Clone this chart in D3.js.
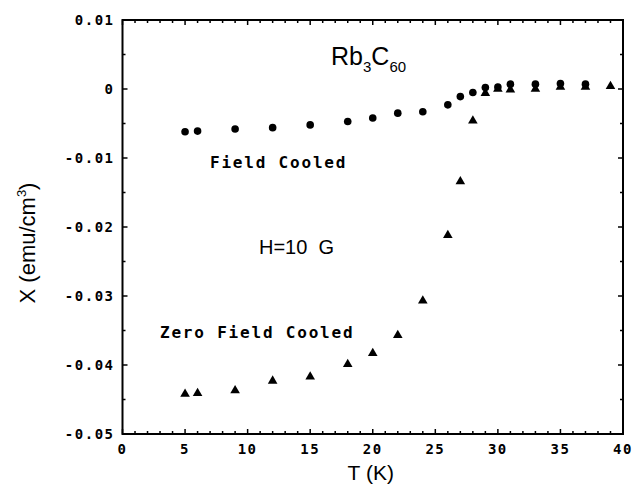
<!DOCTYPE html>
<html><head><meta charset="utf-8">
<script src="https://cdn.jsdelivr.net/npm/d3@7"></script>
<style>
body{margin:0;background:#fff;}
.tick-lbl{font-family:"DejaVu Sans Mono",monospace;font-weight:bold;font-size:14px;letter-spacing:1.5px;fill:#000;}
.mono{font-family:"DejaVu Sans Mono",monospace;font-weight:bold;font-size:16px;letter-spacing:1.8px;fill:#000;}
.sans{font-family:"Liberation Sans",Arial,sans-serif;fill:#000;}
</style></head>
<body>
<svg id="c" width="635" height="484"></svg>
<script>
// Field cooled (circles)
const fcT = [5, 6, 9, 12, 15, 18, 20, 22, 24, 26, 27, 28, 29, 30, 31, 33, 35, 37];
const fcChi = [-0.0062, -0.0061, -0.0058, -0.0056, -0.0052, -0.0047, -0.0042, -0.0035, -0.0033, -0.0023, -0.0011, -0.0005, 0.0002, 0.0003, 0.0007, 0.0007, 0.0008, 0.0007];
// Zero field cooled (triangles)
const zfcT = [5, 6, 9, 12, 15, 18, 20, 22, 24, 26, 27, 28, 29, 30, 31, 33, 35, 37, 39];
const zfcChi = [-0.0442, -0.0441, -0.0437, -0.0423, -0.0417, -0.0399, -0.0383, -0.0357, -0.0307, -0.0212, -0.0134, -0.0046, -0.0006, 0.0, -0.0001, 0.0, 0.0003, 0.0003, 0.0004];
const xTicks = [0, 5, 10, 15, 20, 25, 30, 35, 40];
const yTicks = [0.01, 0, -0.01, -0.02, -0.03, -0.04, -0.05];
const yTickLabels = ["0.01", "0", "-0.01", "-0.02", "-0.03", "-0.04", "-0.05"];

const svg = d3.select("#c");
const L = 122.5, R = 623, T = 20, B = 434;
const x = d3.scaleLinear().domain([0, 40]).range([L, R]);
const y = d3.scaleLinear().domain([-0.05, 0.01]).range([B, T]);

// frame
svg.append("rect").attr("x", L).attr("y", T).attr("width", R - L).attr("height", B - T)
  .attr("fill", "none").attr("stroke", "#000").attr("stroke-width", 2);

// ticks inward on all sides
const xMinor = d3.range(0, 41, 1);
const yMinor = d3.range(-0.05, 0.0101, 0.005);
const g = svg.append("g").attr("stroke", "#000").attr("stroke-width", 1.5);
xMinor.forEach(v => {
  const len = (v % 5 === 0) ? 5 : 3;
  g.append("line").attr("x1", x(v)).attr("x2", x(v)).attr("y1", B).attr("y2", B - len);
  g.append("line").attr("x1", x(v)).attr("x2", x(v)).attr("y1", T).attr("y2", T + len);
});
yMinor.forEach((v, i) => {
  const len = (i % 2 === 0) ? 5 : 3;
  g.append("line").attr("y1", y(v)).attr("y2", y(v)).attr("x1", L).attr("x2", L + len);
  g.append("line").attr("y1", y(v)).attr("y2", y(v)).attr("x1", R).attr("x2", R - len);
});

// tick labels
svg.selectAll(".xl").data(xTicks).enter().append("text").attr("class", "tick-lbl")
  .attr("x", d => x(d)).attr("y", B + 20).attr("text-anchor", "middle").text(d => d);
svg.selectAll(".yl").data(yTicks).enter().append("text").attr("class", "tick-lbl")
  .attr("x", L - 8).attr("y", d => y(d) + 5).attr("text-anchor", "end").text((d, i) => yTickLabels[i]);

// axis titles
svg.append("text").attr("class", "sans").attr("x", (L + R) / 2 - 2).attr("y", 480)
  .attr("text-anchor", "middle").attr("font-size", 21).text("T (K)");
const yl = svg.append("text").attr("class", "sans").attr("font-size", 22)
  .attr("transform", "translate(35,243) rotate(-90)").attr("text-anchor", "middle");
yl.append("tspan").text("X (emu/cm");
yl.append("tspan").attr("font-size", 13).attr("dy", -9).text("3");
yl.append("tspan").attr("dy", 9).text(")");

// markers
svg.selectAll(".fc").data(fcT).enter().append("circle")
  .attr("cx", d => x(d)).attr("cy", (d, i) => y(fcChi[i])).attr("r", 3.8).attr("fill", "#000");
const tri = d3.symbol().type(d3.symbolTriangle).size(40);
svg.selectAll(".zfc").data(zfcT).enter().append("path")
  .attr("d", tri).attr("fill", "#000")
  .attr("transform", (d, i) => `translate(${x(d)},${y(zfcChi[i])})`);

// annotations
const title = svg.append("text").attr("class", "sans").attr("x", 331).attr("y", 65).attr("font-size", 25);
title.append("tspan").text("Rb");
title.append("tspan").attr("font-size", 15).attr("dy", 7).text("3");
title.append("tspan").attr("dy", -7).text("C");
title.append("tspan").attr("font-size", 15).attr("dy", 7).text("60");

svg.append("text").attr("class", "mono").attr("x", 210).attr("y", 168).text("Field Cooled");
svg.append("text").attr("class", "mono").attr("x", 160).attr("y", 338).text("Zero Field Cooled");
svg.append("text").attr("class", "sans").attr("x", 259).attr("y", 254).attr("font-size", 20)
  .attr("xml:space", "preserve").style("white-space", "pre").text("H=10  G");
</script>
</body></html>
